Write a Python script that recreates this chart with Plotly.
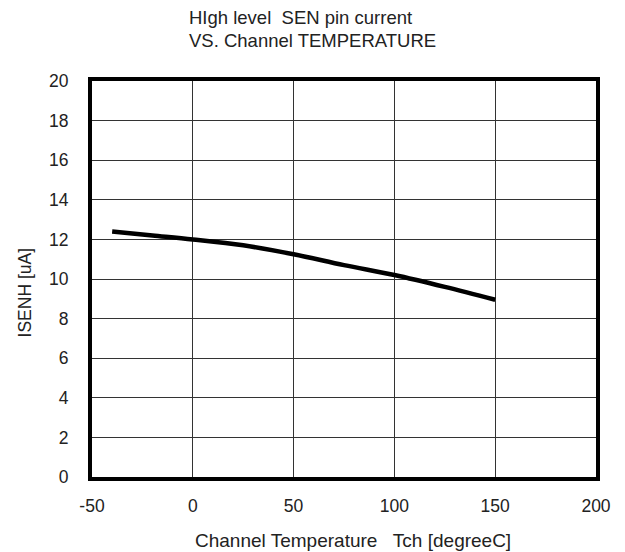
import plotly.graph_objects as go

temperature = [-40, -20, 0, 25, 50, 75, 100, 125, 150]
isenh = [12.4, 12.2, 12.0, 11.7, 11.25, 10.7, 10.2, 9.6, 8.95]

x_ticks = [-50, 0, 50, 100, 150, 200]
x_tick_labels = ["-50", "0", "50", "100", "150", "200"]

fig = go.Figure()
fig.add_trace(go.Scatter(x=temperature, y=isenh, mode="lines",
                         line=dict(color="black", width=4.5, shape="spline"),
                         showlegend=False))

font = dict(family="Liberation Sans, Arial, sans-serif", color="#222", size=17.5)

# page body has an 8px default margin, so margins are trimmed by 8
fig.update_layout(
    width=625, height=552,
    margin=dict(l=84, r=37, t=73, b=83),
    plot_bgcolor="white", paper_bgcolor="white",
    font=font,
)
fig.update_xaxes(range=[-50, 200], tickvals=x_ticks, ticktext=x_tick_labels,
                 showgrid=True, gridcolor="#333", gridwidth=1,
                 zeroline=False, showline=True, linecolor="black", linewidth=4, mirror=True,
                 ticks="", ticklabelstandoff=10)
fig.update_yaxes(range=[0, 20], dtick=2, showgrid=True, gridcolor="#333", gridwidth=1,
                 zeroline=False, showline=True, linecolor="black", linewidth=4, mirror=True,
                 ticks="", ticklabelstandoff=16)

title_lines = ["HIgh level  SEN pin current", "VS. Channel TEMPERATURE"]
for line, shift in zip(title_lines, [64, 41]):
    fig.add_annotation(text=line, xref="paper", yref="paper", x=0.188, y=1.0, yshift=shift,
                       showarrow=False, xanchor="left", yanchor="middle",
                       font=dict(size=18.5))
fig.add_annotation(text="ISENH [uA]", xref="paper", yref="paper", x=-0.133, y=0.466,
                   xanchor="center", yanchor="middle",
                   textangle=-90, showarrow=False, font=dict(size=17.5))
fig.add_annotation(text="Channel Temperature   Tch [degreeC]", xref="paper", yref="paper",
                   x=0.517, y=0, yshift=-63, xanchor="center", yanchor="middle",
                   showarrow=False, font=dict(size=19))

fig.write_html("out.html")
